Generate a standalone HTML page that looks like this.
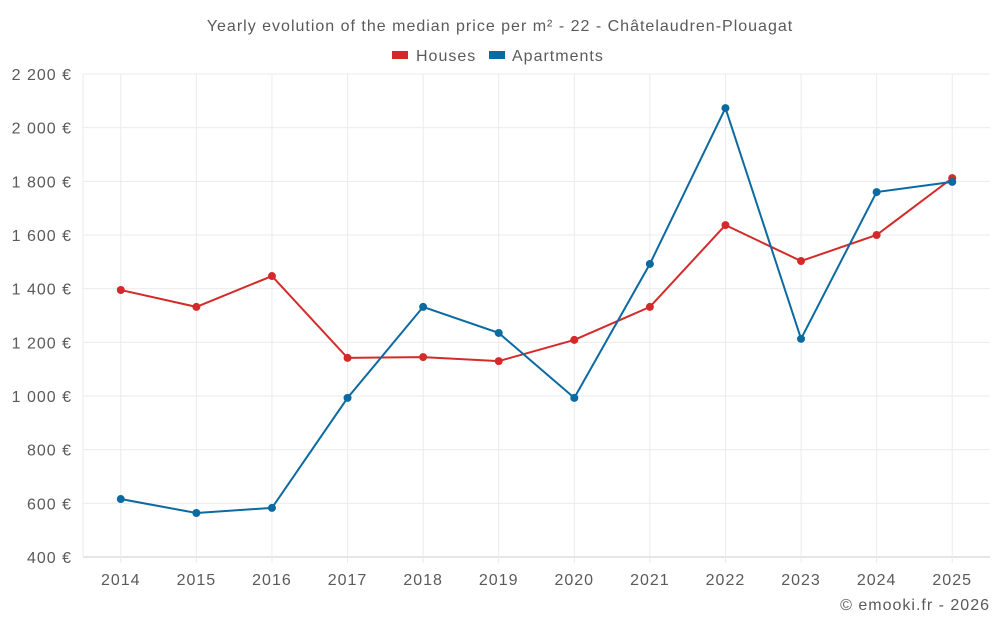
<!DOCTYPE html>
<html><head><meta charset="utf-8"><style>
body{margin:0;background:#fff;font-family:"Liberation Sans",sans-serif;}
svg text{font-family:"Liberation Sans",sans-serif;fill:#5a5a5a;letter-spacing:1px;}
</style></head><body>
<svg id="chart" width="1000" height="625">
<text x="500" y="31" text-anchor="middle" font-size="16">Yearly evolution of the median price per m² - 22 - Châtelaudren-Plouagat</text>
<g>
<g><rect x="392" y="51" width="16" height="8" fill="#d42a2a"/><text x="416" y="61" font-size="16">Houses</text></g>
<g><rect x="489" y="51" width="16" height="8" fill="#0a6aa1"/><text x="512" y="61" font-size="16">Apartments</text></g>
</g>
<g id="grid"></g><g id="axes"></g><g id="series"></g>
<text x="990" y="610" text-anchor="end" font-size="16">© emooki.fr - 2026</text>
</svg>
<script>
const years = [2014,2015,2016,2017,2018,2019,2020,2021,2022,2023,2024,2025];
const houses = [1395,1332,1447,1142,1145,1130,1209,1332,1637,1503,1600,1812];
const apartments = [616,564,583,993,1332,1235,993,1492,2073,1213,1760,1798];
const yTicks = [400,600,800,1000,1200,1400,1600,1800,2000,2200];
const yTickLabels = ["400 €","600 €","800 €","1 000 €","1 200 €","1 400 €","1 600 €","1 800 €","2 000 €","2 200 €"];
const L=83,R=990,T=74,B=557,yMin=400,yMax=2200;
const step=(R-L)/years.length;
const x=i=>L+step*(i+0.5);
const y=v=>B-(v-yMin)/(yMax-yMin)*(B-T);
const NS="http://www.w3.org/2000/svg";
function mk(tag,attrs,parent){const e=document.createElementNS(NS,tag);for(const k in attrs)e.setAttribute(k,attrs[k]);parent.appendChild(e);return e;}
const grid=document.getElementById('grid'),axes=document.getElementById('axes'),ser=document.getElementById('series');
yTicks.forEach((t,i)=>{
 const ln=mk('line',{x1:L,x2:R,y1:y(t),y2:y(t),stroke:i===0?'#ccc':'#ebebeb'},grid);
 
 
 const tx=mk('text',{x:72,y:y(t)+6,'text-anchor':'end','font-size':16,'letter-spacing':'0.8'},axes);
 tx.textContent=yTickLabels[i];
 
 
});
mk('line',{x1:L,x2:L,y1:T,y2:B,stroke:'#ebebeb'},grid);
years.forEach((yr,i)=>{
 const ln=mk('line',{x1:x(i),x2:x(i),y1:T,y2:B+6,stroke:'#ebebeb'},grid);
 
 
 const tx=mk('text',{x:x(i),y:585,'text-anchor':'middle','font-size':16},axes);
 tx.textContent=yr;
 
 
});
function drawSeries(vals,color,name){
 const p=mk('polyline',{points:vals.map((v,i)=>x(i)+','+y(v)).join(' '),fill:'none',stroke:color,'stroke-width':2},ser);
 
 
 vals.forEach((v,i)=>{
  const c=mk('circle',{cx:x(i),cy:y(v),r:4,fill:color},ser);
  
  
 });
}
drawSeries(houses,'#d42a2a','houses');
drawSeries(apartments,'#0a6aa1','apartments');
</script>
</body></html>
